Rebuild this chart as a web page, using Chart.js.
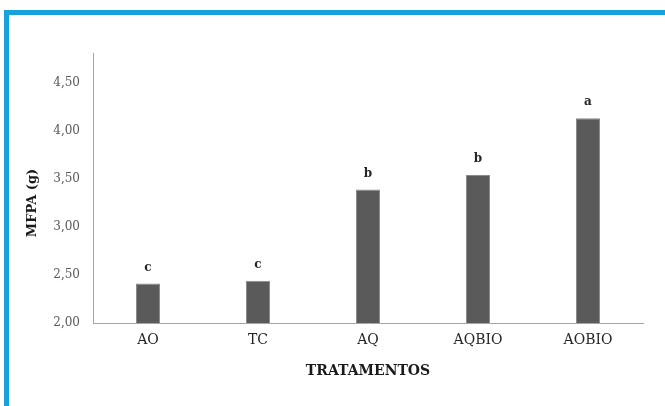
<!DOCTYPE html>
<html>
<head>
<meta charset="utf-8">
<script src="https://cdn.jsdelivr.net/npm/chart.js@4/dist/chart.umd.min.js"></script>
<style>
  html, body { margin: 0; padding: 0; background: #ffffff; }
  #wrap { width: 665px; height: 406px; position: relative; }
</style>
</head>
<body>
<div id="wrap"><canvas id="chart" width="665" height="406"></canvas></div>
<script>
// Treatments and mean MFPA (g)
const categories = ['AO', 'TC', 'AQ', 'AQBIO', 'AOBIO'];
const mfpa = [2.41, 2.44, 3.39, 3.54, 4.13];
// Significance letters shown above each bar
const letters = ['c', 'c', 'b', 'b', 'a'];
// Y tick values
const yTicks = [2.0, 2.5, 3.0, 3.5, 4.0, 4.5];

const serif = "'DejaVu Serif', 'Liberation Serif', serif";

// Blue frame along the top and left edges
const framePlugin = {
  id: 'frame',
  beforeDraw(chart) {
    const ctx = chart.ctx;
    ctx.save();
    ctx.fillStyle = '#17a2dc';
    ctx.fillRect(4, 10, 661, 5);
    ctx.fillRect(4, 10, 5, 396);
    ctx.restore();
  }
};

// Letters above bars and rotated y-axis title
const annotatePlugin = {
  id: 'annotate',
  afterDatasetsDraw(chart) {
    const ctx = chart.ctx;
    const meta = chart.getDatasetMeta(0);
    ctx.save();
    ctx.fillStyle = '#262626';
    ctx.font = 'bold 12px ' + serif;
    ctx.textAlign = 'center';
    ctx.textBaseline = 'middle';
    meta.data.forEach((bar, i) => {
      ctx.fillText(letters[i], bar.x, bar.y - 16);
    });
    ctx.translate(33, 203);
    ctx.rotate(-Math.PI / 2);
    ctx.fillStyle = '#1a1a1a';
    ctx.font = 'bold 13px ' + serif;
    ctx.fillText('MFPA (g)', 0, 0);
    ctx.restore();
  }
};

new Chart(document.getElementById('chart'), {
  type: 'bar',
  data: {
    labels: categories,
    datasets: [{
      data: mfpa,
      backgroundColor: '#5a5a5a',
      borderColor: '#8a8a8a',
      borderWidth: 1,
      barPercentage: 0.218,
      categoryPercentage: 1.0
    }]
  },
  options: {
    responsive: false,
    animation: false,
    layout: { padding: { top: 53, right: 22, left: 0, bottom: 0 } },
    plugins: {
      legend: { display: false },
      tooltip: { enabled: false }
    },
    scales: {
      x: {
        grid: { display: false, drawTicks: false },
        border: { display: true, color: '#a6a6a6', width: 1 },
        ticks: { color: '#262626', font: { family: serif, size: 14 }, padding: 9 },
        title: {
          display: true,
          text: 'TRATAMENTOS',
          color: '#1a1a1a',
          font: { family: serif, size: 14, weight: 'bold' },
          padding: { top: 0, bottom: 26 }
        },
        afterFit(scale) { scale.height = 83; }
      },
      y: {
        min: 2.0,
        max: 4.81,
        grid: { display: false, drawTicks: false },
        border: { display: true, color: '#a6a6a6', width: 1 },
        afterBuildTicks(scale) { scale.ticks = yTicks.map(v => ({ value: v })); },
        ticks: {
          color: '#595959',
          font: { family: serif, size: 12 },
          padding: 13,
          callback: v => v.toFixed(2).replace('.', ',')
        },
        afterFit(scale) { scale.width = 93; }
      }
    }
  },
  plugins: [framePlugin, annotatePlugin]
});
</script>
</body>
</html>
